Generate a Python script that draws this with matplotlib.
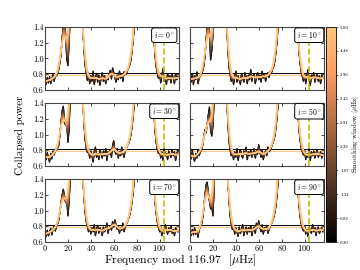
import numpy as np
import matplotlib
matplotlib.use("Agg")
import matplotlib.pyplot as plt
from matplotlib import cm, colors

plt.rcParams['font.family'] = ['cmr10', 'DejaVu Serif']
plt.rcParams['mathtext.fontset'] = 'cm'
plt.rcParams['axes.formatter.use_mathtext'] = True

DNU = 116.97
inclinations = [0, 10, 30, 50, 70, 90]
window_min, window_max = 0.30, 5.00
cbar_ticks = np.linspace(window_min, window_max, 10)
vline_x = 103.5
ref_line_black = 0.81
ref_line_orange = 0.79

p0 = [0.73,0.67,0.76,0.69,0.77,0.68,0.74,0.80,0.71,0.79,
      0.78,0.82,0.86,0.95,1.05,1.25,1.45,1.55,1.30,1.00,
      0.91,1.20,1.55,2.10,2.60,2.90,3.00,2.90,2.70,2.40,
      2.10,1.80,1.60,1.40,1.12,0.92,0.82,0.72,0.82,0.68,
      0.78,0.71,0.84,0.67,0.76,0.81,0.70,0.79,0.66,0.75,
      0.82,0.71,0.78,0.68,0.76,0.73,0.81,0.85,0.74,0.88,
      0.82,0.76,0.70,0.79,0.73,0.84,0.75,0.81,0.71,0.83,
      0.82,0.80,0.86,0.88,0.92,0.98,1.10,1.25,1.42,1.70,
      2.00,2.40,2.80,3.00,3.00,2.90,2.80,2.70,2.55,2.40,
      2.25,2.10,1.95,1.75,1.50,1.30,1.05,0.90,0.82,0.75,
      0.82,0.69,0.78,0.87,0.71,0.76,0.67,0.81,0.73,0.78,
      0.69,0.80,0.75,0.68,0.81,0.73,0.77]
p10 = [0.76,0.70,0.81,0.67,0.78,0.73,0.83,0.68,0.75,0.80,
       0.80,0.84,0.90,1.02,1.20,1.42,1.60,1.35,0.98,1.10,
       1.30,1.45,1.90,2.50,2.90,3.00,3.00,2.90,2.70,2.40,
       2.00,1.70,1.45,1.15,0.90,0.80,0.71,0.81,0.67,0.76,
       0.84,0.70,0.78,0.73,0.67,0.81,0.75,0.70,0.82,0.76,
       0.68,0.79,0.73,0.86,0.71,0.78,0.81,0.68,0.76,0.82,
       0.73,0.79,0.70,0.84,0.75,0.81,0.71,0.78,0.82,0.76,
       0.84,0.81,0.87,0.90,0.96,1.08,1.22,1.45,1.75,2.10,
       2.50,2.80,3.00,3.00,2.90,2.80,2.70,2.55,2.40,2.25,
       2.10,1.95,1.75,1.55,1.35,1.12,0.95,0.84,0.78,0.71,
       0.81,0.68,0.78,0.86,0.73,0.66,0.79,0.75,0.82,0.70,
       0.76,0.81,0.71,0.78,0.68,0.79,0.75]
p30 = [0.73,0.68,0.77,0.70,0.65,0.76,0.69,0.79,0.74,0.80,
       0.80,0.83,0.86,1.00,1.15,1.30,1.36,1.15,1.12,1.16,
       0.90,1.05,1.50,2.00,2.60,2.90,3.00,2.90,2.70,2.40,
       2.10,1.85,1.60,1.45,1.15,0.94,0.83,0.77,0.82,0.70,
       0.79,0.73,0.65,0.78,0.84,0.71,0.76,0.68,0.81,0.75,
       0.70,0.79,0.73,0.82,0.67,0.78,0.75,0.81,0.71,0.86,
       0.92,0.79,0.75,0.82,0.70,0.78,0.73,0.84,0.76,0.71,
       0.80,0.83,0.86,0.89,0.93,1.00,1.10,1.24,1.40,1.70,
       2.00,2.40,2.80,3.00,3.00,2.90,2.80,2.70,2.55,2.40,
       2.25,2.10,1.95,1.75,1.52,1.30,1.06,0.90,0.82,0.76,
       0.81,0.70,0.78,0.67,0.82,0.73,0.76,0.68,0.79,0.75,
       0.71,0.81,0.73,0.78,0.67,0.76,0.79]
p50 = [0.75,0.69,0.79,0.71,0.66,0.76,0.70,0.81,0.73,0.78,
       0.81,0.86,0.96,1.06,1.02,1.12,1.25,1.35,1.05,0.98,
       1.10,1.42,1.90,2.50,2.90,3.00,3.00,2.90,2.70,2.40,
       2.05,1.75,1.48,1.18,0.92,0.81,0.73,0.79,0.68,0.78,
       0.71,0.82,0.67,0.76,0.81,0.73,0.70,0.79,0.75,0.84,
       0.68,0.78,0.73,0.81,0.71,0.76,0.82,0.70,0.79,0.75,
       0.87,0.78,0.71,0.81,0.68,0.76,0.79,0.73,0.84,0.78,
       0.80,0.84,0.88,0.92,0.98,1.08,1.22,1.42,1.72,2.05,
       2.45,2.80,3.00,3.00,2.90,2.80,2.70,2.55,2.40,2.25,
       2.10,1.95,1.75,1.55,1.34,1.10,0.94,0.84,0.78,0.74,
       0.81,0.68,0.76,0.71,0.82,0.67,0.78,0.73,0.79,0.70,
       0.76,0.81,0.71,0.75,0.78,0.70,0.76]
p70 = [0.72,0.67,0.75,0.68,0.73,0.77,0.69,0.76,0.80,0.74,
       0.80,0.83,0.88,0.98,1.10,1.20,1.27,1.18,1.10,1.15,
       0.93,1.10,1.40,1.90,2.50,2.90,3.00,2.90,2.70,2.40,
       2.10,1.85,1.60,1.42,1.18,0.98,0.86,0.80,0.73,0.79,
       0.70,0.78,0.73,0.82,0.68,0.76,0.81,0.71,0.78,0.75,
       0.68,0.79,0.73,0.76,0.84,0.71,0.78,0.81,0.75,0.86,
       0.79,0.88,0.82,0.76,0.81,0.71,0.78,0.75,0.84,0.73,
       0.79,0.83,0.86,0.90,0.95,1.02,1.12,1.25,1.40,1.70,
       2.00,2.40,2.80,3.00,3.00,2.90,2.80,2.70,2.55,2.40,
       2.25,2.10,1.95,1.75,1.52,1.32,1.12,0.97,0.86,0.79,
       0.73,0.79,0.68,0.76,0.71,0.82,0.75,0.70,0.78,0.73,
       0.81,0.71,0.76,0.68,0.78,0.75,0.73]
p90 = [0.73,0.68,0.76,0.69,0.78,0.70,0.74,0.66,0.77,0.80,
       0.82,0.90,1.02,1.18,1.33,1.36,1.22,1.12,1.02,1.07,
       0.93,1.25,1.70,2.30,2.80,3.00,3.00,2.90,2.70,2.40,
       2.10,1.85,1.60,1.40,1.15,0.94,0.83,0.76,0.82,0.70,
       0.78,0.73,0.67,0.79,0.71,0.76,0.82,0.68,0.75,0.79,
       0.70,0.78,0.73,0.81,0.68,0.76,0.79,0.71,0.84,0.78,
       0.87,0.79,0.73,0.82,0.70,0.78,0.75,0.81,0.71,0.76,
       0.80,0.83,0.87,0.91,0.97,1.06,1.20,1.40,1.70,2.05,
       2.45,2.80,3.00,3.00,2.90,2.80,2.70,2.55,2.40,2.25,
       2.10,1.95,1.75,1.55,1.32,1.10,0.93,0.84,0.78,0.74,
       0.81,0.70,0.76,0.67,0.79,0.75,0.71,0.82,0.73,0.78,
       0.68,0.76,0.79,0.71,0.75,0.78,0.73]
panels = [p0, p10, p30, p50, p70, p90]


def smooth(y, fwhm, step=1.0):
    sigma = fwhm / 2.355 / step
    if sigma < 0.05:
        return np.asarray(y, float)
    half = int(np.ceil(4 * sigma)) + 1
    i = np.arange(-half, half + 1)
    k = np.exp(-0.5 * (i / sigma) ** 2)
    k /= k.sum()
    yp = np.pad(np.asarray(y, float), half, mode='reflect')
    return np.convolve(yp, k, mode='same')[half:-half]


fig = plt.figure(figsize=(3.6, 2.7), dpi=100)
W, H = 360.0, 270.0
lefts = [45, 190]
tops = [27, 103, 179]
pw, ph = 134, 63
cmap = matplotlib.colormaps['copper']
norm = colors.Normalize(window_min, window_max)
windows = cbar_ticks

for idx, (inc, vals) in enumerate(zip(inclinations, panels)):
    r, c = divmod(idx, 2)
    ax = fig.add_axes([lefts[c] / W, 1 - (tops[r] + ph) / H, pw / W, ph / H])
    x = np.arange(len(vals)) * 1.0
    for j, w in enumerate(windows):
        lw = 0.9 if j < 3 else (1.2 if j == len(windows) - 1 else 0.8)
        ax.plot(x, smooth(vals, w), color=cmap(norm(w)), lw=lw, zorder=2)
    ax.axhline(ref_line_orange, color=cmap(1.0), lw=0.8, zorder=1)
    ax.axhline(ref_line_black, color='black', lw=0.7, zorder=1)
    ax.axvline(vline_x, color='y', ls='--', lw=1.2, zorder=3)
    ax.set_xlim(0, DNU)
    ax.set_ylim(0.6, 1.4)
    ax.set_xticks([0, 20, 40, 60, 80, 100])
    ax.set_yticks([0.6, 0.8, 1.0, 1.2, 1.4])
    ax.tick_params(direction='in', top=True, right=True, length=2.5, width=0.5,
                   labelsize=6, pad=1)
    if c == 1:
        ax.set_yticklabels([])
    else:
        ax.set_yticklabels(['0.6', '0.8', '1.0', '1.2', '1.4'])
    if r < 2:
        ax.set_xticklabels([])
    for s in ax.spines.values():
        s.set_linewidth(0.8)
        s.set_color('#444444')
    ax.text(0.89, 0.87, r'$i=%d^\circ$' % inc, transform=ax.transAxes,
            ha='center', va='center', fontsize=5.5, zorder=5,
            bbox=dict(boxstyle='round,pad=0.3', fc='white', ec='black', lw=0.7))

cax = fig.add_axes([326 / W, 1 - 242 / H, 10 / W, (242 - 27) / H])
sm = cm.ScalarMappable(norm=norm, cmap=cmap)
cb = fig.colorbar(sm, cax=cax, ticks=cbar_ticks)
cb.ax.set_yticklabels(['%.2f' % t for t in cbar_ticks])
cb.ax.tick_params(labelsize=3.5, length=1.5, width=0.4, pad=1.5)
cb.outline.set_linewidth(0.6)
cb.set_label(r'Smoothing window [$\mu$Hz]', fontsize=5, labelpad=1)

fig.text(0.5, 0.024, r'Frequency mod 116.97  [$\mu$Hz]', ha='center', va='baseline',
         fontsize=8.5)
fig.text(0.055, 0.5, 'Collapsed power', rotation=90, ha='center', va='center',
         fontsize=8)

fig.savefig('out.png', dpi=100)
